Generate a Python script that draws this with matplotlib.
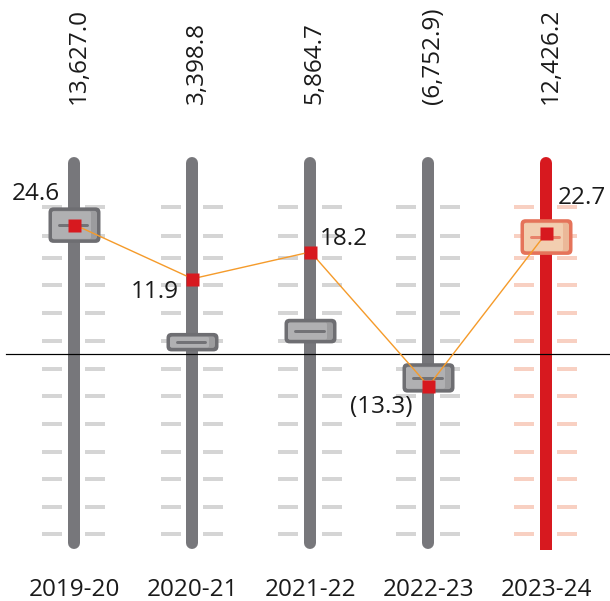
import matplotlib
matplotlib.use("Agg")
import matplotlib.pyplot as plt
from matplotlib.patches import FancyBboxPatch, Rectangle

# ---------------- data ----------------
years = ['2019-20', '2020-21', '2021-22', '2022-23', '2023-24']
amounts = [13627.0, 3398.8, 5864.7, -6752.9, 12426.2]
growth = [24.6, 11.9, 18.2, -13.3, 22.7]
knob_level = [24.5, -3.0, -0.4, -11.4, 21.7]     # slider knob position (growth-axis units)
highlight = [False, False, False, False, True]

# ---------------- styles / geometry ----------------
DPI = 100
X0, DX = 74.5, 118.0        # px of first bar, px per category
Y0, KY = 329.4, 4.256       # px of growth 0, px per growth unit
W, H = 610, 601

def px2y(py):
    return (Y0 - py) / KY

def wx(px):
    return px / DX

def hy(px):
    return px / KY

PT = 72.0 / DPI
FONT = 'Open Sans'
FS = 24.2 * PT
TXT = '#1a1a1a'
GRAY_BAR = '#77777b'
RED_BAR = '#d7191f'
TICK_GRAY = '#d5d5d5'
TICK_RED = '#f8d0c2'
MARKER_RED = '#d7191f'
ORANGE = '#f59b2b'

track_top_px, track_bot_px = 157, 549
tick_px = [207.3, 235.7, 257.7, 285, 312.7, 340.7, 369, 396, 424, 451.7, 479, 506.7, 534.3]
baseline_px = 354.3
knob_h_px = [35.5, 18.5, 24.6, 29.4, 35.7]
knob_w_px = 52

fig = plt.figure(figsize=(W / DPI, H / DPI), dpi=DPI)
ax = fig.add_axes([0, 0, 1, 1])
ax.set_xlim(-X0 / DX, (W - X0) / DX)
ax.set_ylim(px2y(H), px2y(0))
ax.axis('off')

# ticks
for i in range(len(years)):
    col = TICK_RED if highlight[i] else TICK_GRAY
    for t in tick_px:
        yv = px2y(t)
        for a, b in [(-32, -12), (11, 31)]:
            ax.plot([i + wx(a), i + wx(b)], [yv, yv], color=col, lw=4 * PT,
                    solid_capstyle='butt', zorder=1)

# tracks
for i in range(len(years)):
    col = RED_BAR if highlight[i] else GRAY_BAR
    ax.plot([i, i], [px2y(track_top_px + 6), px2y(track_bot_px - 6)], color=col,
            lw=12 * PT, solid_capstyle='round', zorder=2)
    if highlight[i]:
        ax.add_patch(Rectangle((i - wx(6), px2y(track_bot_px + 1)), wx(12),
                               hy(8), fc=col, ec='none', zorder=2))

# baseline
ax.plot([wx(6 - X0), wx(W - X0)], [px2y(baseline_px)] * 2, color='black',
        lw=1.2 * PT, zorder=3)

def rbox(xc, yc, wpx, hpx, rpx, color, z):
    w, h = wx(wpx), hy(hpx)
    p = FancyBboxPatch((xc - w / 2, yc - h / 2), w, h,
                       boxstyle=f"round,pad=0,rounding_size={wx(rpx)}",
                       mutation_aspect=DX / KY, fc=color, ec='none', zorder=z)
    ax.add_patch(p)

# knobs
for i, lv in enumerate(knob_level):
    hpx = knob_h_px[i]
    if highlight[i]:
        c_out, c_in, c_hi, c_line = '#e5735a', '#ebb898', '#f2ceb0', '#e8826a'
    else:
        c_out, c_in, c_hi, c_line = '#6e6e72', '#9c9c9e', '#b0b0b2', '#727276'
    rbox(i, lv, knob_w_px, hpx, 5, c_out, 4)
    rbox(i, lv, knob_w_px - 7, hpx - 7, 2.5, c_in, 4.1)
    # highlight region (lighter, leaves darker strip on the right)
    hw = knob_w_px - 7 - 6
    rbox(i - wx(3), lv, hw, hpx - 8, 1.5, c_hi, 4.2)
    ax.plot([i - wx(15), i + wx(13)], [lv, lv], color=c_line, lw=3 * PT,
            solid_capstyle='round', zorder=4.3)

# growth line + markers
xs = list(range(len(years)))
ax.plot(xs, growth, color=ORANGE, lw=1.4 * PT, zorder=5)
ax.plot(xs, growth, ls='none', marker='s', ms=13 * PT, mfc=MARKER_RED,
        mec='none', zorder=6)

def fmt(v, dec=1, sep=True):
    s = f"{abs(v):,.{dec}f}" if sep else f"{abs(v):.{dec}f}"
    return f"({s})" if v < 0 else s

# growth labels: offsets in px from marker (dx, dy of digit centre; dy downwards positive)
lab_off = [(-38.5, -33), (-37.5, 10.3), (33, -15.7), (-47.4, 18.5), (35, -37.7)]
for i, g in enumerate(growth):
    dx, dy = lab_off[i]
    ax.annotate(fmt(g), (i, g), xytext=(dx * PT, -(dy + 8.7) * PT),
                textcoords='offset points', ha='center', va='baseline',
                fontsize=FS, family=FONT, color=TXT, zorder=7)

# amount labels (rotated, top)
for i, a in enumerate(amounts):
    ax.annotate(fmt(a), (i, px2y(104)), xytext=(10.5 * PT, 0),
                textcoords='offset points', rotation=90, rotation_mode='anchor',
                ha='left', va='baseline', fontsize=FS, family=FONT, color=TXT)

# year labels
for i, y in enumerate(years):
    ax.text(i, px2y(595.7), y, ha='center', va='baseline', fontsize=FS,
            family=FONT, color=TXT)

fig.savefig('out.png', dpi=DPI)
